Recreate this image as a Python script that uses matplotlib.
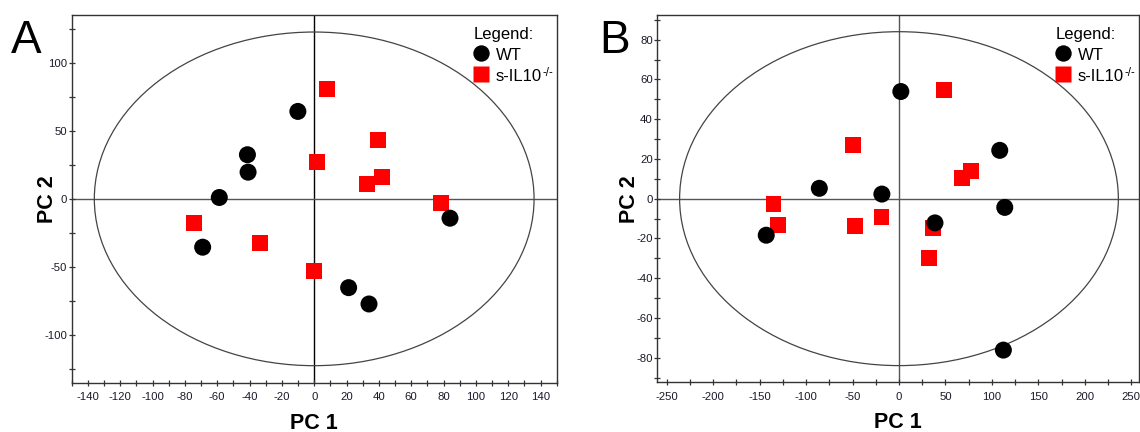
import matplotlib
matplotlib.use("Agg")
import matplotlib.pyplot as plt
import matplotlib.transforms as mtransforms
from matplotlib.patches import Ellipse
from matplotlib.ticker import MultipleLocator, FixedLocator
import numpy as np

plt.rcParams['font.family'] = ['Liberation Sans', 'DejaVu Sans']
plt.rcParams['axes.unicode_minus'] = False

# ---------------- data ----------------
groups = ["WT", "s-IL10"]
group_sup = ["", "-/-"]

# Panel A
a_wt_pc1 = [-10.1, -41.3, -40.9, -58.7, 84.0, -69.0, 21.3, 33.9]
a_wt_pc2 = [64.2, 32.4, 19.6, 1.0, -14.2, -35.5, -65.2, -77.2]
a_ko_pc1 = [8.1, 39.3, 1.6, 32.4, 42.2, 78.2, -74.4, -33.5, -0.4]
a_ko_pc2 = [80.6, 42.9, 27.2, 11.0, 15.9, -3.2, -17.9, -32.1, -53.2]
a_ellipse = (136, 122.5)  # semi-axes (PC1, PC2)

# Panel B
b_wt_pc1 = [2.0, 108.4, -85.7, -18.4, 113.8, 38.7, -142.8, 112.3]
b_wt_pc2 = [53.9, 24.3, 5.2, 2.3, -4.4, -12.2, -18.4, -76.2]
b_ko_pc1 = [48.9, -49.3, 68.1, 77.1, -135.0, -130.3, -46.9, -18.8, 36.8, 32.1]
b_ko_pc2 = [54.7, 27.0, 10.4, 14.1, -2.5, -13.4, -13.9, -9.2, -14.7, -29.8]
b_ellipse = (236, 84)

# ---------------- figure ----------------
W, H = 1140, 432
fig = plt.figure(figsize=(W / 100, H / 100), dpi=100)

def px_axes(l, t, r, b):
    return fig.add_axes([l / W, 1 - b / H, (r - l) / W, (b - t) / H])

axA = px_axes(71.7, 15, 556.7, 382.7)
axB = px_axes(657.3, 15, 1138.8, 382.3)

panels = [
    dict(ax=axA, wt=(a_wt_pc1, a_wt_pc2), ko=(a_ko_pc1, a_ko_pc2), ell=a_ellipse,
         xlim=(-150, 150), ylim=(-135, 135), xmin=10, ymin=25,
         xticks=np.arange(-140, 141, 20), yticks=np.arange(-100, 101, 50),
         letter="A", letter_x=11, ylab_x=-0.0505, axcol_v="black", axcol_h="#555555"),
    dict(ax=axB, wt=(b_wt_pc1, b_wt_pc2), ko=(b_ko_pc1, b_ko_pc2), ell=b_ellipse,
         xlim=(-260, 258), ylim=(-92.4, 92.4), xmin=25, ymin=10,
         xticks=np.arange(-250, 251, 50), yticks=np.arange(-80, 81, 20),
         letter="B", letter_x=599, ylab_x=-0.057, axcol_v="#555555", axcol_h="#555555"),
]

for p in panels:
    ax = p["ax"]
    ax.set_xlim(*p["xlim"])
    ax.set_ylim(*p["ylim"])
    ax.axvline(0, color=p["axcol_v"], lw=1.0, zorder=1)
    ax.axhline(0, color=p["axcol_h"], lw=1.0, zorder=1)
    ell = Ellipse((0, 0), 2 * p["ell"][0], 2 * p["ell"][1], fill=False,
                  edgecolor="#444444", lw=0.9, zorder=1)
    ax.add_patch(ell)
    ax.scatter(p["ko"][0], p["ko"][1], marker="s", s=132, color="#ff0000",
               edgecolors="none", zorder=3)
    ax.scatter(p["wt"][0], p["wt"][1], marker="o", s=150, color="black",
               edgecolors="none", zorder=4)

    ax.xaxis.set_major_locator(FixedLocator(p["xticks"]))
    ax.xaxis.set_minor_locator(MultipleLocator(p["xmin"]))
    ax.yaxis.set_major_locator(FixedLocator(p["yticks"]))
    ax.yaxis.set_minor_locator(MultipleLocator(p["ymin"]))
    ax.tick_params(which="both", direction="inout", length=4.5, width=0.9,
                   color="#333333")
    ax.tick_params(axis="x", which="major", labelsize=8.2, pad=4.5,
                   labelcolor="#1a1a2a")
    ax.tick_params(axis="y", which="major", labelsize=8.2, pad=1.0,
                   labelcolor="#1a1a2a")
    for sp in ax.spines.values():
        sp.set_color("#333333")
        sp.set_linewidth(1.0)

    ax.set_xlabel("PC 1", fontsize=15.5, fontweight="bold", va="baseline")
    ax.xaxis.set_label_coords(0.5, -(428.5 - 382.5) / 367.5)
    ax.set_ylabel("PC 2", fontsize=15.5, fontweight="bold", va="center")
    ax.yaxis.set_label_coords(p["ylab_x"], 0.5)

    fig.text(p["letter_x"] / W, 1 - 53 / H, p["letter"], fontsize=33,
             va="baseline", ha="left")

    # legend block anchored to the top-right corner of the axes
    def off(dx, dy):
        return mtransforms.offset_copy(ax.transAxes, fig=fig, x=dx, y=dy,
                                       units="dots")
    ax.text(1, 1, "Legend:", transform=off(-83, -24.5), fontsize=12,
            ha="left", va="baseline")
    ax.plot([1], [1], marker="o", ms=11.8, color="black", mec="none",
            transform=off(-76, -38), clip_on=False)
    ax.plot([1], [1], marker="s", ms=11.3, color="#ff0000", mec="none",
            transform=off(-76, -59), clip_on=False)
    for gi, dy in zip(range(2), (-45, -66)):
        t = ax.text(1, 1, groups[gi], transform=off(-61, dy), fontsize=12,
                    ha="left", va="baseline")
        if group_sup[gi]:
            ax.annotate(group_sup[gi], xy=(1.0, 1.0), xycoords=t,
                        xytext=(0.6, 1.6), textcoords="offset points",
                        fontsize=8.3, ha="left", va="top")

fig.savefig("out.png", dpi=100)
